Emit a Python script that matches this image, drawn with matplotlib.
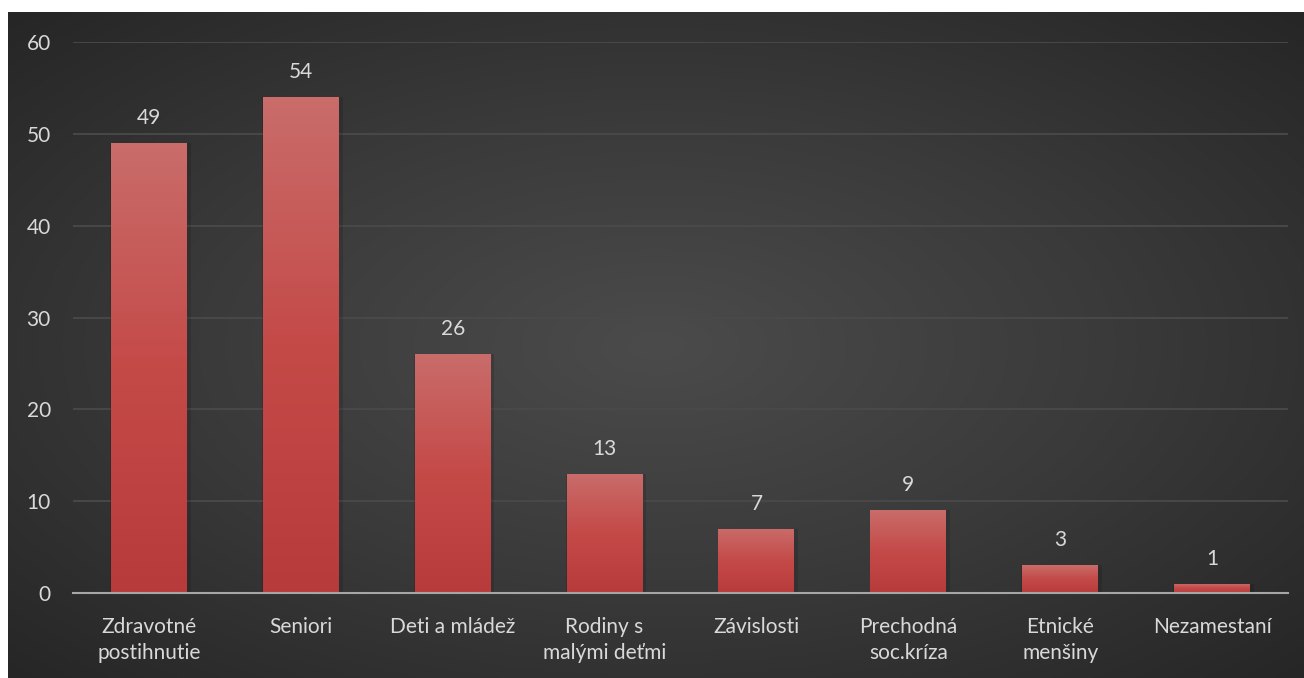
import numpy as np
import matplotlib
matplotlib.use("Agg")
import matplotlib.pyplot as plt
from matplotlib.colors import LinearSegmentedColormap

categories = ["Zdravotné\npostihnutie", "Seniori", "Deti a mládež", "Rodiny s\nmalými deťmi",
              "Závislosti", "Prechodná\nsoc.kríza", "Etnické\nmenšiny", "Nezamestaní"]
values = [49, 54, 26, 13, 7, 9, 3, 1]
yticks = [0, 10, 20, 30, 40, 50, 60]

W, H, DPI = 1304, 678, 100
plt.rcParams["font.family"] = ["Lato", "DejaVu Sans"]
TEXT = "#d9d9d9"
FS = 15

fig = plt.figure(figsize=(W / DPI, H / DPI), dpi=DPI, facecolor="white")

# dark radial background, leaving a thin white margin top/left
bx0, by1 = 8 / W, 1 - 12 / H
bg = fig.add_axes([bx0, 0, 1 - bx0, by1])
yy, xx = np.mgrid[0:300, 0:600]
cx, cy = 300, 150
r = np.sqrt(((xx - cx) / 300.0) ** 2 + ((yy - cy) / 150.0) ** 2) / np.sqrt(2)
bg_cmap = LinearSegmentedColormap.from_list("bg", ["#4b4b4b", "#3a3a3a", "#262626"])
bg.imshow(r, cmap=bg_cmap, aspect="auto", extent=[0, 1, 0, 1], vmin=0, vmax=1)
bg.set_axis_off()

ax = fig.add_axes([73 / W, 1 - 593 / H, (1288 - 73) / W, (593 - 42) / H])
ax.patch.set_alpha(0)
x = np.arange(len(values))
bars = ax.bar(x, values, width=0.5, color="none", zorder=3)

bar_cmap = LinearSegmentedColormap.from_list("bar", ["#b83b3b", "#c44a48", "#c96c6a"])
grad = np.linspace(0, 1, 100).reshape(-1, 1)
for xi, b, v in zip(x, bars, values):
    # soft shadow
    ax.bar(xi + 0.01, v, width=0.53, color="black", alpha=0.12, zorder=2, linewidth=0)
    im = ax.imshow(grad, cmap=bar_cmap, aspect="auto", origin="lower",
                   extent=[xi - 0.25, xi + 0.25, 0, v], zorder=3)
    im.set_clip_path(b)
    ax.annotate(str(v), (xi, v), xytext=(0, 18), textcoords="offset points",
                ha="center", va="center", fontsize=FS, color=TEXT)

ax.set_xlim(-0.5, len(values) - 0.5)
ax.set_ylim(0, 60)
ax.set_yticks(yticks)
ax.set_xticks(x)
ax.set_xticklabels(categories, linespacing=1.4)
ax.tick_params(axis="both", length=0, colors=TEXT, labelsize=FS)
ax.tick_params(axis="y", pad=16)
ax.tick_params(axis="x", pad=17)
ax.grid(True, axis="y", color="#4a4a4a", linewidth=1.3, zorder=0)
for s in ["top", "right", "left"]:
    ax.spines[s].set_visible(False)
ax.spines["bottom"].set_color("#a6a6a6")
ax.spines["bottom"].set_linewidth(1.5)
ax.spines["bottom"].set_zorder(4)

fig.savefig("out.png", dpi=DPI, facecolor="white")
